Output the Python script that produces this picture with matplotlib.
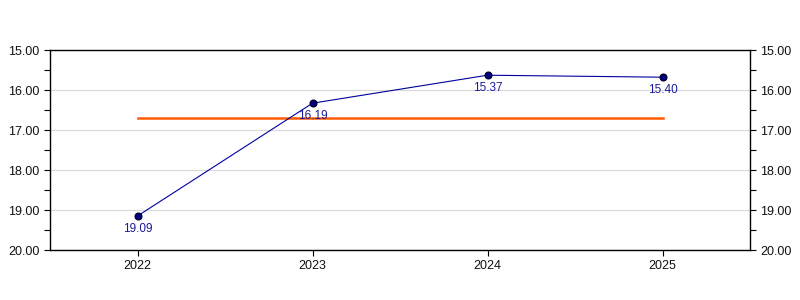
import matplotlib
matplotlib.use("Agg")
import matplotlib.pyplot as plt
from matplotlib.ticker import MultipleLocator, FormatStrFormatter

plt.rcParams['font.family'] = ['Liberation Sans', 'DejaVu Sans']

years = ["2022", "2023", "2024", "2025"]
values = [19.15, 16.33, 15.63, 15.68]
labels = ["19.09", "16.19", "15.37", "15.40"]
average = sum(values) / len(values)

fig = plt.figure(figsize=(8, 3), dpi=100)
ax = fig.add_axes([0.0625, 1/6, 0.875, 2/3])

x = list(range(len(years)))
ax.plot([x[0], x[-1]], [average, average], color="#FF5A00", lw=1.8, zorder=2)
ax.plot(x, values, color="#0000A0", lw=0.8, marker="o", ms=5,
        markerfacecolor="#000080", markeredgecolor="#000020", markeredgewidth=0.8, zorder=3)
for xi, v, lab in zip(x, values, labels):
    ax.annotate(lab, (xi, v), xytext=(0, -5), textcoords="offset points",
                ha="center", va="top", fontsize=8.5, color="#1A1A99")

ax.set_xlim(-0.5, 3.5)
ax.set_ylim(20, 15)
ax.set_xticks(x)
ax.set_xticklabels(years)
ax.yaxis.set_major_locator(MultipleLocator(1))
ax.yaxis.set_minor_locator(MultipleLocator(0.5))
ax.yaxis.set_major_formatter(FormatStrFormatter("%.2f"))
ax.tick_params(axis="y", which="both", left=True, right=True, labelleft=True, labelright=True,
               length=4, width=0.8, labelsize=9, direction="out", labelcolor="#111111")
ax.tick_params(axis="x", length=4, width=0.8, labelsize=9, labelcolor="#111111")
ax.grid(axis="y", which="major", color="#D9D9D9", lw=0.8)
ax.set_axisbelow(True)
for s in ax.spines.values():
    s.set_linewidth(1.0)

fig.savefig("out.png", dpi=100)
